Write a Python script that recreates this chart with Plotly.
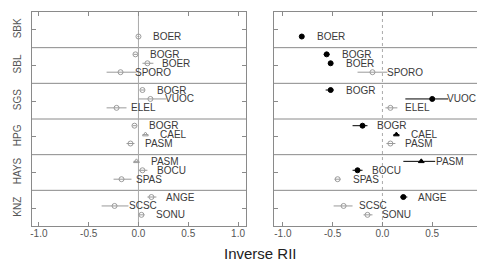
import plotly.graph_objects as go

sites = ["SBK", "SBL", "SGS", "HPG", "HAYS", "KNZ"]
# species per site, slot order top->bottom (None = empty slot)
species = [
    [None, None, "BOER"],
    ["BOGR", "BOER", "SPORO"],
    ["BOGR", "VUOC", "ELEL"],
    ["BOGR", "CAEL", "PASM"],
    ["PASM", "BOCU", "SPAS"],
    ["ANGE", "SCSC", "SONU"],
]
triangle = [
    [0, 0, 0], [0, 0, 0], [0, 0, 0], [0, 1, 0], [1, 0, 0], [0, 0, 0],
]
# left panel: mean, lower, upper
left_mean = [[None, None, 0.00], [-0.03, 0.09, -0.18], [0.04, 0.12, -0.22],
             [-0.04, 0.07, -0.08], [-0.02, 0.04, -0.17], [0.13, -0.24, 0.03]]
left_lo = [[None, None, -0.01], [-0.05, 0.04, -0.32], [0.02, 0.00, -0.32],
           [-0.06, 0.04, -0.12], [-0.05, 0.00, -0.25], [0.09, -0.37, 0.00]]
left_hi = [[None, None, 0.01], [-0.01, 0.15, -0.02], [0.06, 0.28, -0.12],
           [-0.02, 0.10, -0.04], [0.01, 0.09, -0.07], [0.18, -0.10, 0.06]]
# right panel
right_mean = [[None, None, -0.81], [-0.56, -0.52, -0.10], [-0.52, 0.50, 0.08],
              [-0.20, 0.14, 0.08], [0.39, -0.25, -0.45], [0.21, -0.39, -0.15]]
right_lo = [[None, None, -0.82], [-0.59, -0.54, -0.25], [-0.57, 0.23, 0.03],
            [-0.30, 0.11, 0.04], [0.21, -0.30, -0.48], [0.18, -0.49, -0.19]]
right_hi = [[None, None, -0.80], [-0.53, -0.50, 0.05], [-0.49, 0.66, 0.15],
            [-0.15, 0.17, 0.13], [0.53, -0.20, -0.42], [0.25, -0.30, -0.10]]
right_sig = [[0, 0, 1], [1, 1, 0], [1, 1, 0], [1, 1, 0], [1, 1, 0], [1, 0, 0]]

x_ticks = [-1.0, -0.5, 0.0, 0.5, 1.0]
x_ticktext = ["-1.0", "-0.5", "0.0", "0.5", "1.0"]
x_title = "Inverse RII"

# the page body has an 8px margin, so the figure is drawn 8px in from the corner
OFF = 8
W, H = 485 - OFF, 266 - OFF
MT, MB = 12 - OFF, 266 - 226
PLOT_H = H - MT - MB
FONT = "Liberation Sans, Arial, sans-serif"
FRAME = "#8a8a8a"
GREY = "#9a9a9a"
TXT = "#3a3a3a"

fig = go.Figure()


def add_panel(mean, lo, hi, sig, xa, ya):
    for g in range(len(sites)):
        for s in range(3):
            m = mean[g][s]
            if m is None:
                continue
            y = 4 * g + 0.75 + s
            filled = bool(sig[g][s]) if sig is not None else False
            col = "#000000" if filled else GREY
            sym = "triangle-up" if triangle[g][s] else "circle"
            if not filled:
                sym += "-open"
            fig.add_trace(go.Scatter(
                x=[m], y=[y], mode="markers", xaxis=xa, yaxis=ya,
                marker=dict(symbol=sym, size=5,
                            color=col, line=dict(color=col, width=1)),
                error_x=dict(type="data", symmetric=False,
                             array=[hi[g][s] - m], arrayminus=[m - lo[g][s]],
                             color=col, thickness=1, width=0),
                showlegend=False, hoverinfo="skip"))
            fig.add_annotation(x=m + 0.14, y=y, xref=xa, yref=ya,
                               text=species[g][s], showarrow=False,
                               xanchor="left", yanchor="middle",
                               font=dict(family=FONT, size=10, color=TXT),
                               borderpad=0)


add_panel(left_mean, left_lo, left_hi, None, "x", "y")
add_panel(right_mean, right_lo, right_hi, right_sig, "x2", "y2")

# separators and zero lines
for xr, yr, dash in (("x", "y", "solid"), ("x2", "y2", "dot")):
    for g in range(1, len(sites)):
        fig.add_shape(type="line", xref=xr + " domain", yref=yr,
                      x0=0, x1=1, y0=4 * g, y1=4 * g,
                      line=dict(color=FRAME, width=1), layer="below")
    fig.add_shape(type="line", xref=xr, yref=yr + " domain", x0=0, x1=0,
                  y0=0, y1=1, line=dict(color="#aaaaaa", width=1, dash=dash),
                  layer="below")

axis_common = dict(showgrid=False, zeroline=False, showline=True,
                   linecolor=FRAME, linewidth=1, ticks="inside", ticklen=4,
                   tickcolor=FRAME,
                   tickfont=dict(family=FONT, size=10, color="#555555"))

fig.update_layout(
    width=W, height=H, margin=dict(l=0, r=0, t=MT, b=MB),
    plot_bgcolor="white", paper_bgcolor="white",
    xaxis=dict(domain=[(30 - OFF) / W, (245 - OFF) / W], range=[-1.07, 1.08],
               tickvals=x_ticks, ticktext=x_ticktext, mirror="ticks",
               ticklabelstandoff=-2, **axis_common),
    xaxis2=dict(domain=[(273 - OFF) / W, 1.0], range=[-1.09, 1.03],
                tickvals=x_ticks, ticktext=x_ticktext, mirror="ticks",
                ticklabelstandoff=-2, **axis_common),
    yaxis=dict(domain=[0, 1], range=[24, 0], anchor="x",
               tickvals=[4 * g + 2 for g in range(len(sites))],
               ticktext=sites, tickangle=-90, mirror="ticks",
               ticklabelstandoff=6, **axis_common),
    yaxis2=dict(domain=[0, 1], range=[24, 0], anchor="x2",
                tickvals=[4 * g + 2 for g in range(len(sites))],
                showticklabels=False, mirror=False,
                **axis_common),
)

fig.add_annotation(x=(260 - OFF) / W, y=(226 - 253) / PLOT_H,
                   xref="paper", yref="paper", text=x_title, showarrow=False,
                   xanchor="center", yanchor="middle",
                   font=dict(family=FONT, size=15, color="#222222"))

fig.write_html("out.html")
